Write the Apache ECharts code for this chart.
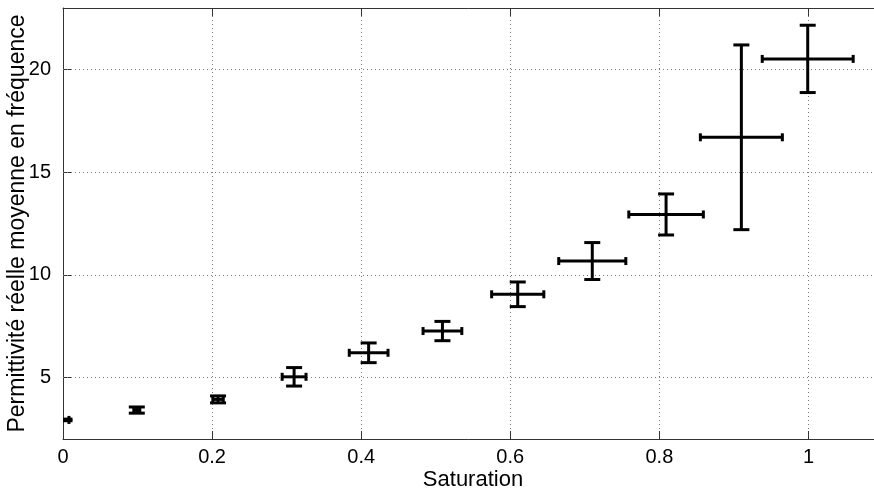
<!DOCTYPE html>
<html>
<head>
<meta charset="utf-8">
<script src="https://cdn.jsdelivr.net/npm/echarts@6/dist/echarts.min.js"></script>
<style>html,body{margin:0;padding:0;background:#fff}#c{width:874px;height:489px}</style>
</head>
<body>
<div id="c"></div>
<script>
// Data
const saturation = [0.002, 0.099, 0.208, 0.310, 0.410, 0.509, 0.610, 0.710, 0.809, 0.910, 0.999];
const permittivity = [2.93, 3.41, 3.93, 5.03, 6.20, 7.26, 9.05, 10.67, 12.94, 16.70, 20.52];
const satError = [0.006, 0.004, 0.007, 0.016, 0.026, 0.026, 0.035, 0.045, 0.050, 0.055, 0.061];
const permError = [0.04, 0.15, 0.17, 0.45, 0.48, 0.47, 0.60, 0.90, 1.00, 4.50, 1.64];
const xTicks = [0, 0.2, 0.4, 0.6, 0.8, 1];
const yTicks = [5, 10, 15, 20];
const xLabel = 'Saturation';
const yLabel = 'Permittivité réelle moyenne en fréquence';

const FONT = '"Liberation Sans", Arial, Helvetica, sans-serif';
const chart = echarts.init(document.getElementById('c'), null, {renderer: 'canvas'});

const data = saturation.map((x, i) => [x, permittivity[i], satError[i], permError[i]]);

function renderItem(params, api) {
  const x = api.value(0), y = api.value(1), dx = api.value(2), dy = api.value(3);
  const c = api.coord([x, y]);
  const l = api.coord([x - dx, y]);
  const r = api.coord([x + dx, y]);
  const t = api.coord([x, y + dy]);
  const b = api.coord([x, y - dy]);
  const vcap = 8, hcap = 4;
  const style = {stroke: '#000', lineWidth: 3, lineCap: 'butt'};
  const children = [
    {type: 'line', shape: {x1: l[0], y1: c[1], x2: r[0], y2: c[1]}, style},
    {type: 'line', shape: {x1: c[0], y1: t[1], x2: c[0], y2: b[1]}, style},
    {type: 'line', shape: {x1: c[0] - vcap, y1: t[1], x2: c[0] + vcap, y2: t[1]}, style},
    {type: 'line', shape: {x1: c[0] - vcap, y1: b[1], x2: c[0] + vcap, y2: b[1]}, style},
    {type: 'line', shape: {x1: l[0], y1: c[1] - hcap, x2: l[0], y2: c[1] + hcap}, style},
    {type: 'line', shape: {x1: r[0], y1: c[1] - hcap, x2: r[0], y2: c[1] + hcap}, style}
  ];
  return {type: 'group', children, clipPath: {type: 'rect', shape: {x: params.coordSys.x, y: params.coordSys.y, width: params.coordSys.width, height: params.coordSys.height}}};
}

const gridLine = {show: true, lineStyle: {color: '#777', type: [1, 3], width: 1}};

chart.setOption({
  animation: false,
  backgroundColor: '#fff',
  grid: {left: 63, right: -9, top: 8, bottom: 50, containLabel: false, outerBoundsMode: 'none'},
  xAxis: [{
    type: 'value', min: 0, max: 1.1, interval: 0.2,
    name: xLabel, nameLocation: 'middle', nameGap: 30, nameMoveOverlap: false,
    nameTextStyle: {fontFamily: FONT, fontSize: 22, color: '#000'},
    axisLine: {show: true, onZero: false, lineStyle: {color: '#333', width: 1}},
    axisTick: {show: true, inside: true, length: 8, lineStyle: {color: '#333'}},
    axisLabel: {fontFamily: FONT, fontSize: 20, color: '#000', margin: 8, showMaxLabel: false,
      formatter: v => (xTicks.indexOf(+v.toFixed(2)) >= 0 ? String(+v.toFixed(2)) : '')},
    splitLine: gridLine
  }, {
    type: 'value', min: 0, max: 1.1, interval: 0.2, position: 'top',
    axisLine: {show: true, onZero: false, lineStyle: {color: '#333', width: 1}},
    axisTick: {show: true, inside: true, length: 8, lineStyle: {color: '#333'}},
    axisLabel: {show: false}, splitLine: {show: false}
  }],
  yAxis: [{
    type: 'value', min: 2, max: 23,
    name: yLabel, nameLocation: 'middle', nameGap: 34, nameMoveOverlap: false,
    nameTextStyle: {fontFamily: FONT, fontSize: 23, color: '#000'},
    axisLine: {show: true, onZero: false, lineStyle: {color: '#333', width: 1}},
    axisTick: {show: true, inside: true, length: 8, customValues: yTicks, lineStyle: {color: '#333'}},
    axisLabel: {fontFamily: FONT, fontSize: 20, color: '#000', margin: 12, customValues: yTicks},
    splitLine: {show: false}
  }],
  series: [{
    type: 'custom',
    renderItem,
    data,
    encode: {x: 0, y: 1},
    z: 10,
    markLine: {
      silent: true, symbol: 'none', label: {show: false},
      lineStyle: {color: '#777', type: [1, 3], width: 1},
      data: yTicks.map(v => ({yAxis: v}))
    }
  }]
});
</script>
</body>
</html>
